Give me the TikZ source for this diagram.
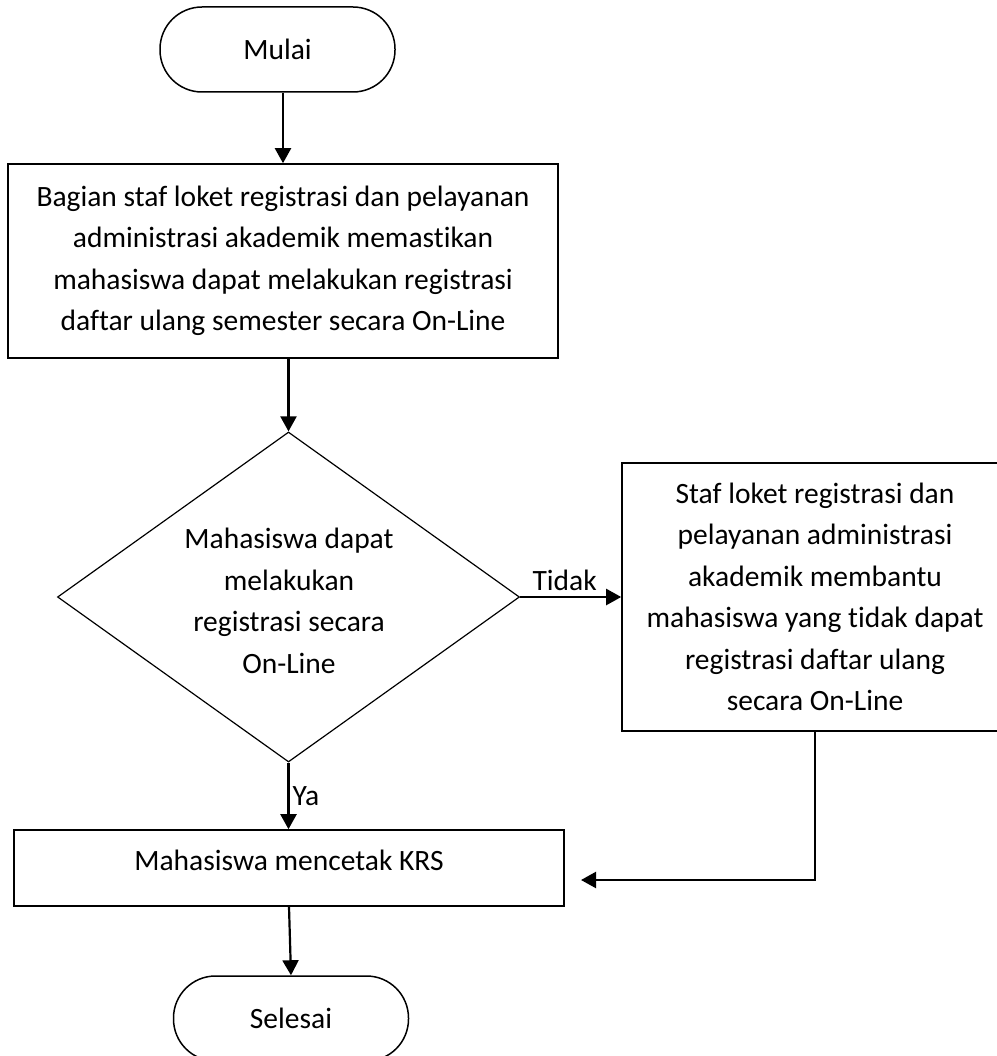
\documentclass[tikz,border=0pt]{standalone}
\usepackage{fontspec}
\setmainfont{Carlito}[Ligatures=NoCommon]
\usetikzlibrary{arrows.meta,shapes.geometric}
\tikzset{
  txt/.style={font=\fontsize{29.5}{41.5}\selectfont, align=center, inner sep=0pt},
  procbox/.style={draw, line width=1.6pt, inner sep=0pt, txt},
  term/.style={draw, line width=1.5pt, rounded corners=42pt, minimum width=235pt, minimum height=85pt, inner sep=0pt, txt},
  decbox/.style={draw, diamond, line width=1.2pt, minimum width=462pt, minimum height=330pt, inner sep=0pt},
  flow/.style={line width=2.2pt, -{Triangle[length=15pt,width=16pt]}},
  lbl/.style={txt}
}
\begin{document}
\begin{tikzpicture}[x=1pt,y=-1pt]
\useasboundingbox (0,0) rectangle (996,1056);
\node[term] (mulai) at (277.5,49.5) {Mulai};
\node[procbox, minimum width=550pt, minimum height=194pt] (box1) at (283,261)
  {Bagian staf loket registrasi dan pelayanan\\administrasi akademik memastikan\\mahasiswa dapat melakukan registrasi\\daftar ulang semester secara On-Line};
\node[decbox] (dec) at (288.5,597) {};
\node[txt] (dectext) at (289,601) {Mahasiswa dapat\\melakukan\\registrasi secara\\On-Line};
\node[procbox, minimum width=386pt, minimum height=268pt] (right) at (815,597)
  {Staf loket registrasi dan\\pelayanan administrasi\\akademik membantu\\mahasiswa yang tidak dapat\\registrasi daftar ulang\\secara On-Line};
\node[procbox, minimum width=550pt, minimum height=76pt] (krs) at (289,868) {};
\node[txt] (krstext) at (289,860) {Mahasiswa mencetak KRS};
\node[term] (selesai) at (291,1018.5) {Selesai};
\coordinate (ret) at (581,880);
\draw[flow] (box1.north |- mulai.south) -- (box1.north);
\draw[flow] (dec.north |- box1.south) -- (dec.north);
\draw[flow] (dec.east) -- node[lbl, above=5pt, xshift=-6pt] (tidak) {Tidak} (right.west);
\draw[flow] (dec.south) -- node[lbl, right=3pt] (ya) {Ya} (dec.south |- krs.north);
\draw[flow] (right.south) |- (ret);
\draw[flow] (krs.south) -- (selesai.north);
\end{tikzpicture}
\end{document}
